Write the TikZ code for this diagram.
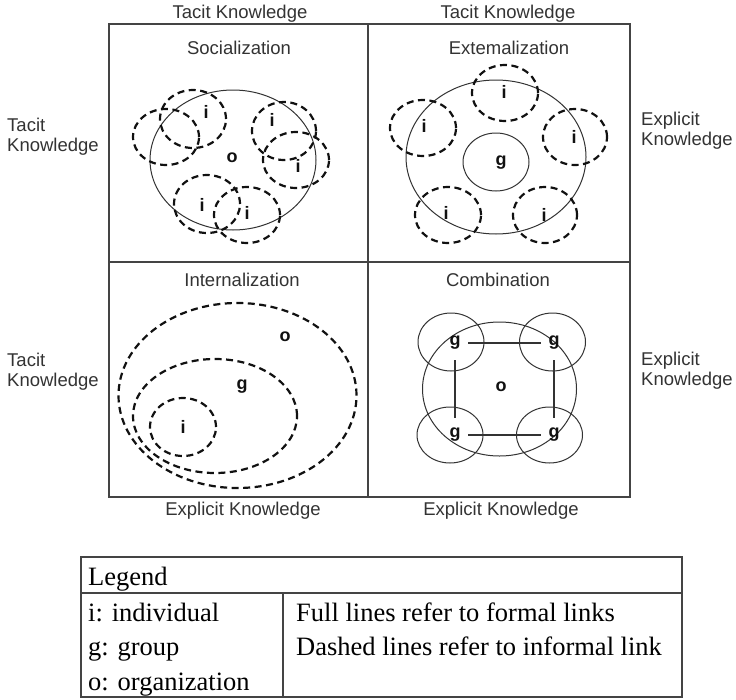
\documentclass[tikz,border=0pt]{standalone}
\usepackage{fontspec}
\setmainfont{Liberation Sans}
\newfontfamily\legendfont{Liberation Serif}
\usetikzlibrary{shapes.geometric}
\definecolor{ink}{HTML}{333333}
\definecolor{dk}{HTML}{111111}
\definecolor{frm}{HTML}{444444}
\begin{document}
\begin{tikzpicture}[x=1pt,y=-1pt,
  lbl/.style={font=\fontsize{18.5}{20}\selectfont, text=ink, inner sep=0pt},
  sidelbl/.style={lbl, align=left, anchor=west},
  tag/.style={font=\bfseries\fontsize{18}{20}\selectfont, text=dk, inner sep=0pt},
  dcirc/.style={draw=dk, line width=2.2pt, dash pattern=on 7pt off 4.5pt},
  scirc/.style={draw=ink, line width=1pt},
  frame/.style={draw=frm, line width=1.6pt},
  leg/.style={font=\legendfont\fontsize{26.5}{30}\selectfont, inner sep=0pt, anchor=base west, text=black},
  gnode/.style={tag, minimum width=26pt, minimum height=34pt},
  link/.style={draw=ink, line width=1.4pt}
]
\useasboundingbox (0,0) rectangle (736,699);
\fill[white] (0,0) rectangle (736,699);

% ---- grid ----
\draw[frame] (109,24) rectangle (630,497);
\draw[frame] (368,24) -- (368,497);
\draw[frame] (109,262) -- (630,262);

% ---- outer labels ----
\node[lbl] (t1) at (240,13.5) {Tacit Knowledge};
\node[lbl] (t2) at (508,13.5) {Tacit Knowledge};
\node[lbl] (b1) at (243,511) {Explicit Knowledge};
\node[lbl] (b2) at (501,511) {Explicit Knowledge};
\node[sidelbl] (l1) at (7,137) {Tacit\\Knowledge};
\node[sidelbl] (l2) at (7,372) {Tacit\\Knowledge};
\node[sidelbl] (r1) at (641,131) {Explicit\\Knowledge};
\node[sidelbl] (r2) at (641,371) {Explicit\\Knowledge};

% ---- quadrant titles ----
\node[lbl] (q1) at (239,48) {Socialization};
\node[lbl] (q2) at (509,48) {Extemalization};
\node[lbl] (q3) at (242,280) {Internalization};
\node[lbl] (q4) at (498,280) {Combination};

% ---- Socialization ----
\draw[scirc] (233,160) ellipse [x radius=83pt, y radius=70pt];
\node[tag] (so) at (232,158) {o};
\draw[dcirc] (166,137) ellipse [x radius=33pt, y radius=28pt];
\draw[dcirc] (193,119) ellipse [x radius=33pt, y radius=29pt];
\draw[dcirc] (284,131) ellipse [x radius=32pt, y radius=29pt];
\draw[dcirc] (296,160) ellipse [x radius=33pt, y radius=28pt];
\draw[dcirc] (207,204) ellipse [x radius=33pt, y radius=29pt];
\draw[dcirc] (247,215) ellipse [x radius=33pt, y radius=28pt];
\node[tag] (si1) at (206,112) {i};
\node[tag] (si2) at (272,120) {i};
\node[tag] (si3) at (298,166) {i};
\node[tag] (si4) at (202,205) {i};
\node[tag] (si5) at (247,213) {i};

% ---- Extemalization ----
\draw[scirc] (496,157) ellipse [x radius=90pt, y radius=77pt];
\draw[scirc] (496,162) ellipse [x radius=33pt, y radius=29pt];
\node[tag] (eg) at (501,163) {g};
\draw[dcirc] (505,93) ellipse [x radius=33pt, y radius=28pt];
\draw[dcirc] (423,128) ellipse [x radius=33pt, y radius=28pt];
\draw[dcirc] (575,137) ellipse [x radius=32pt, y radius=28pt];
\draw[dcirc] (448,215) ellipse [x radius=33pt, y radius=28pt];
\draw[dcirc] (545,215) ellipse [x radius=32pt, y radius=28pt];
\node[tag] (ei1) at (504,92) {i};
\node[tag] (ei2) at (424,126) {i};
\node[tag] (ei3) at (574,137) {i};
\node[tag] (ei4) at (446,213) {i};
\node[tag] (ei5) at (544,215) {i};

% ---- Internalization ----
\draw[dcirc] (237.5,395.5) ellipse [x radius=119pt, y radius=92.5pt];
\draw[dcirc] (215,416) ellipse [x radius=82pt, y radius=57pt];
\draw[dcirc] (183,427) ellipse [x radius=33pt, y radius=29pt];
\node[tag] (io) at (285,337) {o};
\node[tag] (ig) at (242,387) {g};
\node[tag] (ii) at (183,427) {i};

% ---- Combination ----
\draw[scirc] (499.5,389) ellipse [x radius=77pt, y radius=67pt];
\draw[scirc] (451,342) ellipse [x radius=33pt, y radius=29pt];
\draw[scirc] (552.5,342) ellipse [x radius=33pt, y radius=29pt];
\draw[scirc] (450,435) ellipse [x radius=33pt, y radius=28pt];
\draw[scirc] (549.5,435) ellipse [x radius=33pt, y radius=28pt];
\node[tag] (co) at (501,387) {o};
\node[gnode] (g1) at (455,343) {g};
\node[gnode] (g2) at (554,343) {g};
\node[gnode] (g3) at (455,435) {g};
\node[gnode] (g4) at (554,435) {g};
\draw[link] (g1) -- (g2);
\draw[link] (g2) -- (g4);
\draw[link] (g4) -- (g3);
\draw[link] (g3) -- (g1);

% ---- Legend ----
\draw[frame, line width=1.5pt] (81,557) rectangle (682,697);
\draw[frame, line width=1.5pt] (81,593) -- (682,593);
\draw[frame, line width=1.5pt] (283,593) -- (283,697);
\node[leg] (lg) at (88,585) {Legend};
\node[leg] (lgi) at (88,621) {i: individual};
\node[leg] (lgg) at (88,655.5) {g: group};
\node[leg] (lgo) at (88,690) {o: organization};
\node[leg] (lf) at (296,621) {Full lines refer to formal links};
\node[leg] (ld) at (296,655.5) {Dashed lines refer to informal link};
\end{tikzpicture}
\end{document}
